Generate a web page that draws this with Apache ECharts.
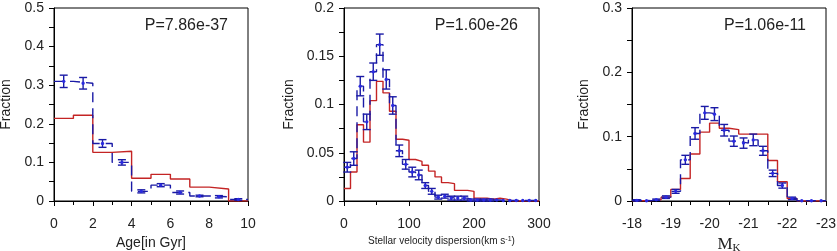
<!DOCTYPE html>
<html>
<head>
<meta charset="utf-8">
<script src="https://cdn.jsdelivr.net/npm/echarts@6/dist/echarts.min.js"></script>
<style>
  html, body { margin: 0; padding: 0; background: #fff; }
  #chart { width: 837px; height: 251px; }
</style>
</head>
<body>
<div id="chart"></div>
<script>
// --- panel 1: age ---
const ageStart = [0, 1, 2, 3, 4, 5, 6, 7, 8, 9];
const ageModel = [0.214, 0.222, 0.126, 0.129, 0.059, 0.069, 0.057, 0.036, 0.031, 0];
const ageObs = [0.310, 0.305, 0.149, 0.100, 0.025, 0.041, 0.022, 0.013, 0.011, 0.004];
const ageErr = [0.016, 0.015, 0.010, 0.007, 0.004, 0.004, 0.004, 0.002, 0.003, 0.002];

// --- panel 2: velocity dispersion ---
const velStart = [0, 10, 20, 30, 40, 50, 60, 70, 80, 90, 100, 110, 120, 130, 140,
  150, 160, 170, 180, 190, 200, 210, 220, 230, 240, 250, 260, 270, 280, 290];
const velModel = [0.013, 0.030, 0.079, 0.061, 0.104, 0.124, 0.112, 0.093, 0.064, 0.063,
  0.043, 0.041, 0.037, 0.031, 0.025, 0.019, 0.018, 0.011, 0.011, 0.010,
  0.003, 0.003, 0.002, 0.003, 0.002, 0, 0, 0, 0, 0];
const velObs = [0.035, 0.044, 0.119, 0.082, 0.134, 0.162, 0.126, 0.099, 0.052, 0.038,
  0.030, 0.027, 0.016, 0.010, 0.004, 0.005, 0.003, 0.003, 0.003, 0.001,
  0.001, 0.001, 0.001, 0.001, 0.0005, 0.0005, 0.0005, 0.0005, 0.0005, 0.0005];
const velErr = [0.005, 0.007, 0.010, 0.008, 0.009, 0.011, 0.010, 0.009, 0.006, 0.005,
  0.005, 0.005, 0.003, 0.003, 0.002, 0.002, 0.002, 0.002, 0.002, 0.001,
  0.001, 0.001, 0.001, 0, 0, 0, 0, 0, 0, 0];

// --- panel 3: M_K ---
const mkStart = [-18, -18.25, -18.5, -18.75, -19, -19.25, -19.5, -19.75, -20, -20.25,
  -20.5, -20.75, -21, -21.25, -21.5, -21.75, -22, -22.25, -22.5, -22.75];
const mkModel = [0.0005, 0.0005, 0.002, 0.006, 0.018, 0.035, 0.073, 0.107, 0.121, 0.113,
  0.111, 0.104, 0.104, 0.104, 0.063, 0.030, 0.004, 0, 0, 0];
const mkObs = [0.001, 0.0005, 0.002, 0.006, 0.015, 0.064, 0.105, 0.137, 0.135, 0.110,
  0.093, 0.090, 0.095, 0.078, 0.043, 0.024, 0.004, 0.0005, 0.0005, 0.0005];
const mkErr = [0.001, 0, 0.001, 0.002, 0.003, 0.007, 0.009, 0.010, 0.010, 0.009,
  0.008, 0.008, 0.009, 0.007, 0.005, 0.004, 0.002, 0, 0, 0];

const pLabels = ['P=7.86e-37', 'P=1.60e-26', 'P=1.06e-11'];

const RED = '#c42424';
const BLUE = '#1a1aa6';
const DOT = '#2a2ae0';
const FONT = 'Liberation Sans, Arial, sans-serif';
const SERIF = 'Liberation Serif, Times New Roman, serif';

// step histogram: left edges + closing point at the last right edge
function stepData(starts, vals, width, endVal) {
  const d = starts.map((s, i) => [s, vals[i]]);
  d.push([starts[starts.length - 1] + width, endVal === undefined ? vals[vals.length - 1] : endVal]);
  return d;
}
function barData(starts, vals, errs, width) {
  return starts.map((s, i) => [s + width / 2, vals[i], errs[i]]);
}

function errorBar(params, api) {
  const x = api.value(0), y = api.value(1), e = api.value(2);
  const mid = api.coord([x, y]);
  const kids = [];
  const st = { stroke: BLUE, lineWidth: 1.4 };
  if (e > 0) {
    const t = api.coord([x, y + e]);
    const b = api.coord([x, y - e]);
    const h = 4;
    kids.push({ type: 'line', shape: { x1: t[0], y1: t[1], x2: b[0], y2: b[1] }, style: st });
    kids.push({ type: 'line', shape: { x1: t[0] - h, y1: t[1], x2: t[0] + h, y2: t[1] }, style: st });
    kids.push({ type: 'line', shape: { x1: b[0] - h, y1: b[1], x2: b[0] + h, y2: b[1] }, style: st });
  }
  kids.push({ type: 'circle', shape: { cx: mid[0], cy: mid[1], r: 1.7 }, style: { fill: DOT } });
  return { type: 'group', children: kids };
}

function xAxisCfg(i, o) {
  return Object.assign({
    gridIndex: i, type: 'value',
    axisLine: { onZero: false, lineStyle: { color: '#000', width: 1 } },
    axisTick: { length: 5, lineStyle: { color: '#000' } },
    minorTick: { show: true, splitNumber: 2, length: 4, lineStyle: { color: '#000' } },
    splitLine: { show: false },
    axisLabel: { color: '#222', fontSize: 14, fontFamily: FONT, margin: 16 },
    nameLocation: 'middle',
    nameTextStyle: { color: '#222', fontFamily: FONT, fontSize: 14 }
  }, o);
}
function yAxisCfg(i, o) {
  return Object.assign({
    gridIndex: i, type: 'value', min: 0,
    axisLine: { onZero: false, lineStyle: { color: '#000', width: 1 } },
    axisTick: { length: 5, lineStyle: { color: '#000' } },
    minorTick: { show: true, splitNumber: 2, length: 5, lineStyle: { color: '#000' } },
    splitLine: { show: false },
    axisLabel: { color: '#222', fontSize: 14, fontFamily: FONT, margin: 10 },
    name: 'Fraction', nameLocation: 'middle', nameRotate: 90,
    nameTextStyle: { color: '#222', fontFamily: FONT, fontSize: 14 }
  }, o);
}

const gridBase = {
  top: 8, height: 193, show: true, borderColor: '#000', borderWidth: 1,
  backgroundColor: 'transparent', containLabel: false, outerBoundsMode: 'none'
};

const stepLine = (i, data, color, dashed) => ({
  type: 'line', xAxisIndex: i, yAxisIndex: i, step: 'end', data: data,
  symbol: 'none', silent: true,
  lineStyle: { color: color, width: 1.4, type: dashed ? [10, 6] : 'solid' },
  z: dashed ? 3 : 2
});
const bars = (i, data) => ({
  type: 'custom', xAxisIndex: i, yAxisIndex: i, renderItem: errorBar,
  data: data, encode: { x: 0, y: 1 }, z: 4, silent: true
});

const chart = echarts.init(document.getElementById('chart'));
chart.setOption({
  animation: false,
  grid: [
    Object.assign({ left: 54, width: 194 }, gridBase),
    Object.assign({ left: 344, width: 195 }, gridBase),
    Object.assign({ left: 632, width: 194 }, gridBase)
  ],
  xAxis: [
    xAxisCfg(0, { min: 0, max: 10, interval: 2, name: 'Age[in Gyr]', nameGap: 24 }),
    xAxisCfg(1, {
      min: 0, max: 300, interval: 100, nameGap: 29,
      name: 'Stellar velocity dispersion(km s{sup|-1})',
      nameTextStyle: {
        color: '#222', fontFamily: FONT, fontSize: 10,
        rich: { sup: { fontSize: 7, fontFamily: FONT, color: '#222', verticalAlign: 'top', lineHeight: 10 } }
      }
    }),
    xAxisCfg(2, {
      min: -23, max: -18, interval: 1, inverse: true, nameGap: 21,
      name: '{m|M}{k|K}',
      nameTextStyle: {
        rich: {
          m: { fontFamily: SERIF, fontSize: 17, color: '#222', lineHeight: 18, verticalAlign: 'top' },
          k: { fontFamily: SERIF, fontSize: 11, color: '#222', lineHeight: 18, verticalAlign: 'bottom' }
        }
      }
    })
  ],
  yAxis: [
    yAxisCfg(0, { max: 0.5, interval: 0.1, nameGap: 41 }),
    yAxisCfg(1, { max: 0.2, interval: 0.05, nameGap: 48 }),
    yAxisCfg(2, { max: 0.3, interval: 0.1, nameGap: 41 })
  ],
  graphic: [
    { type: 'text', right: 837 - 228, top: 18, style: { text: pLabels[0], font: '16px ' + FONT, fill: '#222' } },
    { type: 'text', right: 837 - 518, top: 18, style: { text: pLabels[1], font: '16px ' + FONT, fill: '#222' } },
    { type: 'text', right: 837 - 806, top: 18, style: { text: pLabels[2], font: '16px ' + FONT, fill: '#222' } }
  ],
  series: [
    stepLine(0, stepData(ageStart, ageModel, 1, 0), RED, false),
    stepLine(0, stepData(ageStart, ageObs, 1), BLUE, true),
    bars(0, barData(ageStart, ageObs, ageErr, 1)),

    stepLine(1, stepData(velStart, velModel, 10, 0), RED, false),
    stepLine(1, stepData(velStart, velObs, 10), BLUE, true),
    bars(1, barData(velStart, velObs, velErr, 10)),

    stepLine(2, stepData(mkStart, mkModel, -0.25, 0), RED, false),
    stepLine(2, stepData(mkStart, mkObs, -0.25), BLUE, true),
    bars(2, barData(mkStart, mkObs, mkErr, -0.25))
  ]
});
</script>
</body>
</html>
